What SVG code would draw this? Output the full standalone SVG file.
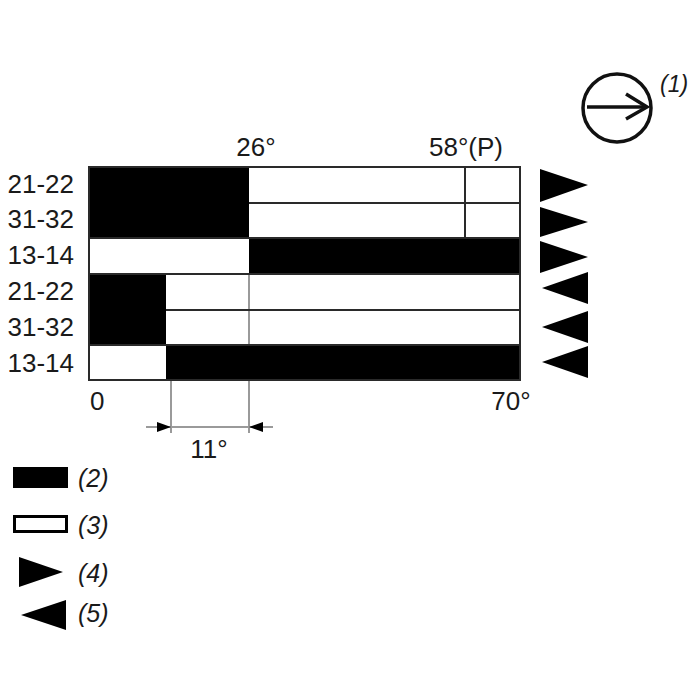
<svg xmlns="http://www.w3.org/2000/svg" width="700" height="700" viewBox="0 0 700 700">
<style>
.t{font-family:"Liberation Sans",Arial,sans-serif;font-size:26px;fill:#1a1a1a}
.i{font-family:"Liberation Sans",Arial,sans-serif;font-size:25px;font-style:italic;fill:#1a1a1a}
.ln{stroke:#2a2a2a;stroke-width:2;fill:none}
.gr{stroke:#9a9a9a;stroke-width:2;fill:none}
.blk{fill:#000}
</style>
<rect width="700" height="700" fill="#fff"/>
<g id="symbol">
<circle cx="617" cy="108" r="34" fill="none" stroke="#111" stroke-width="3.5"/>
<line x1="587" y1="107" x2="646" y2="107" stroke="#111" stroke-width="3.5"/>
<polyline points="626,94 647,107 626,119" fill="none" stroke="#111" stroke-width="3.5"/>
<text class="i" x="660" y="92" style="font-size:23px">(1)</text>
</g>
<g id="chart">
<rect x="89" y="167" width="431" height="213" fill="#fff"/>
<rect class="blk" x="89" y="167" width="160" height="71"/>
<rect class="blk" x="249" y="238" width="271" height="36"/>
<rect class="blk" x="89" y="274" width="77" height="71"/>
<rect class="blk" x="166" y="345" width="354" height="35"/>
<line class="gr" x1="249" y1="274" x2="249" y2="345"/>
<line class="ln" x1="249" y1="203" x2="520" y2="203"/>
<line class="ln" x1="89" y1="238" x2="520" y2="238"/>
<line class="ln" x1="89" y1="274" x2="520" y2="274"/>
<line class="ln" x1="166" y1="310" x2="520" y2="310"/>
<line class="ln" x1="89" y1="345" x2="520" y2="345"/>
<line class="ln" x1="465" y1="167" x2="465" y2="238"/>
<rect class="ln" x="89" y="167" width="431" height="213"/>
</g>
<g id="labels">
<text class="t" x="74" y="193" text-anchor="end">21-22</text>
<text class="t" x="74" y="228" text-anchor="end">31-32</text>
<text class="t" x="74" y="264" text-anchor="end">13-14</text>
<text class="t" x="74" y="300" text-anchor="end">21-22</text>
<text class="t" x="74" y="336" text-anchor="end">31-32</text>
<text class="t" x="74" y="372" text-anchor="end">13-14</text>
<text class="t" x="256" y="156" text-anchor="middle">26°</text>
<text class="t" x="466" y="156" text-anchor="middle">58°(P)</text>
<text class="t" x="90" y="410">0</text>
<text class="t" x="511" y="410" text-anchor="middle">70°</text>
<text class="t" x="209" y="458" text-anchor="middle">11°</text>
</g>
<g id="directions">
<polygon class="blk" points="540,169 588,185 540,202"/>
<polygon class="blk" points="540,207 588,222 540,237"/>
<polygon class="blk" points="540,241 588,257 540,273"/>
<polygon class="blk" points="588,272 542,288 588,304"/>
<polygon class="blk" points="588,311 542,327 588,343"/>
<polygon class="blk" points="588,346 542,362 588,378"/>
</g>
<g id="dimension">
<line class="gr" x1="171" y1="381" x2="171" y2="433"/>
<line class="gr" x1="249" y1="381" x2="249" y2="433"/>
<line class="gr" x1="146" y1="427" x2="273" y2="427"/>
<polygon class="blk" points="171,427 157,422 157,432"/>
<polygon class="blk" points="249,427 263,422 263,432"/>
</g>
<g id="legend">
<rect class="blk" x="13" y="467" width="55" height="21"/>
<text class="i" x="78" y="487">(2)</text>
<rect x="14.5" y="516.5" width="52" height="15" fill="#fff" stroke="#000" stroke-width="3"/>
<text class="i" x="78" y="534">(3)</text>
<polygon class="blk" points="19,557 63,572 19,587"/>
<text class="i" x="78" y="582">(4)</text>
<polygon class="blk" points="66,600 21,615 66,630"/>
<text class="i" x="78" y="622">(5)</text>
</g>
</svg>
